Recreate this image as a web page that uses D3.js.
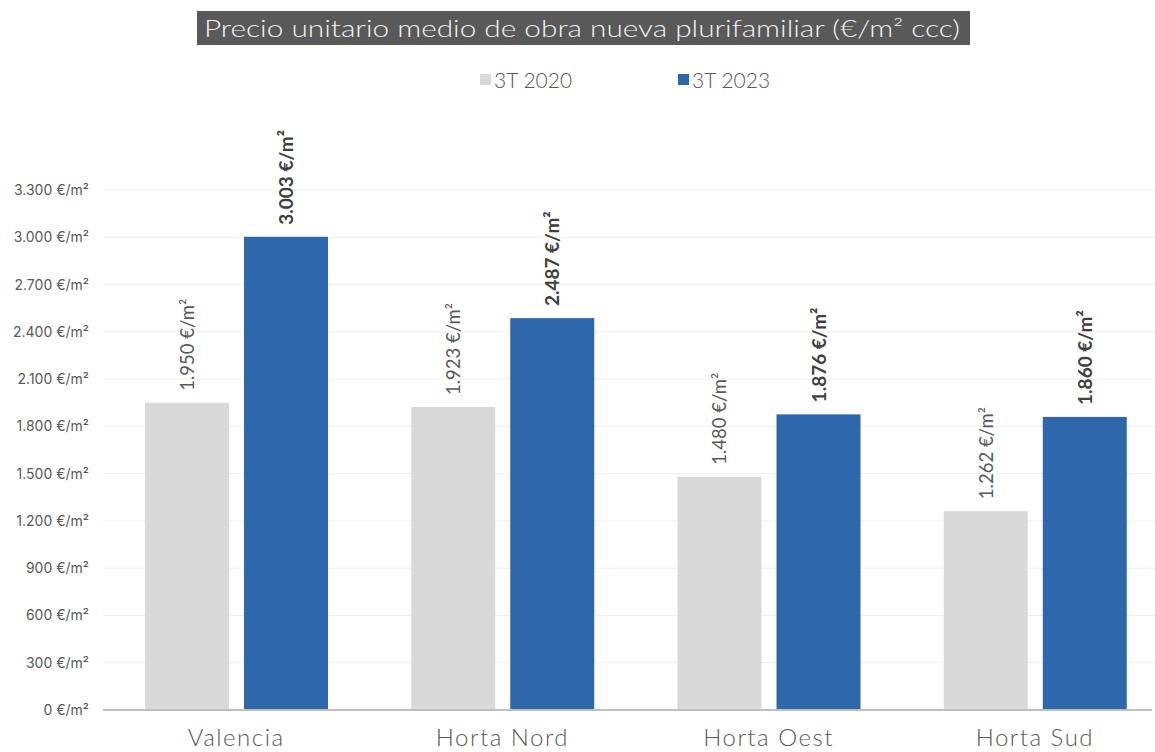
<!DOCTYPE html>
<html>
<head>
<meta charset="utf-8">
<script src="https://cdn.jsdelivr.net/npm/d3@7"></script>
<style>
  body { margin: 0; background: #fff; }
  svg { display: block; font-family: "Lato", "Noto Sans", sans-serif; }
</style>
</head>
<body>
<div id="chart"></div>
<script>
const width = 1155;
const height = 752;

// datos
const categories = ["Valencia", "Horta Nord", "Horta Oest", "Horta Sud"];
const seriesNames = ["3T 2020", "3T 2023"];
const values2020 = [1950, 1923, 1480, 1262];
const values2023 = [3003, 2487, 1876, 1860];
const yTicks = [0, 300, 600, 900, 1200, 1500, 1800, 2100, 2400, 2700, 3000, 3300];
const colors = ["#d9d9d9", "#2e67ab"];

const fmt = (v) => d3.format(",")(v).replace(/,/g, ".") + " €/m²";

const svg = d3.select("#chart").append("svg")
  .attr("width", width)
  .attr("height", height);

// escalas
const x = d3.scaleBand().domain(categories).range([103, 1168]);
const xs = d3.scaleBand().domain(seriesNames).range([42, 225]).paddingInner(0.152);
const y = d3.scaleLinear().domain([0, 3300]).range([710, 190]);

// rejilla
svg.append("g")
  .selectAll("line")
  .data(yTicks.slice(1))
  .join("line")
  .attr("x1", 103).attr("x2", width)
  .attr("y1", d => y(d)).attr("y2", d => y(d))
  .attr("stroke", "#efefef").attr("stroke-width", 1);

// eje Y
const yAxis = svg.append("g")
  .attr("transform", "translate(103,0)")
  .call(d3.axisLeft(y).tickValues(yTicks).tickSize(0).tickPadding(14).tickFormat(fmt));
yAxis.select(".domain").remove();
yAxis.selectAll("text")
  .attr("fill", "#595959")
  .style("font-size", "14px")
  .style("font-family", "Inter, 'Noto Sans', sans-serif");

// barras
const data = [values2020, values2023];
const groups = svg.append("g")
  .selectAll("g")
  .data(categories)
  .join("g")
  .attr("transform", d => "translate(" + x(d) + ",0)");

groups.selectAll("rect")
  .data((d, i) => seriesNames.map((s, j) => ({ s, v: data[j][i], j })))
  .join("rect")
  .attr("x", d => xs(d.s))
  .attr("y", d => y(d.v))
  .attr("width", xs.bandwidth())
  .attr("height", d => y(0) - y(d.v))
  .attr("fill", d => colors[d.j]);

// etiquetas de valor
groups.selectAll("text.val")
  .data((d, i) => seriesNames.map((s, j) => ({ s, v: data[j][i], j })))
  .join("text")
  .attr("class", "val")
  .attr("transform", d => "translate(" + (xs(d.s) + xs.bandwidth() / 2 + 7) + "," + (y(d.v) - 12) + ") rotate(-90)")
  .attr("text-anchor", "start")
  .attr("fill", d => d.j ? "#404040" : "#595959")
  .style("font-size", d => d.j ? "19px" : "18.5px")
  .style("font-weight", d => d.j ? "bold" : "normal")
  .text(d => fmt(d.v));

// linea base
svg.append("line")
  .attr("x1", 103).attr("x2", 1152)
  .attr("y1", y(0)).attr("y2", y(0))
  .attr("stroke", "#bfbfbf").attr("stroke-width", 2);

// eje X
svg.append("g")
  .selectAll("text")
  .data(categories)
  .join("text")
  .attr("x", d => x(d) + x.bandwidth() / 2)
  .attr("y", 746)
  .attr("text-anchor", "middle")
  .attr("fill", "#595959")
  .style("font-size", "24px")
  .style("letter-spacing", "1.5px")
  .style("font-weight", "300")
  .text(d => d);

// titulo
svg.append("rect")
  .attr("x", 197).attr("y", 11)
  .attr("width", 773).attr("height", 34)
  .attr("fill", "#595959");
svg.append("text")
  .attr("x", 204).attr("y", 37)
  .attr("fill", "#f2f2f2")
  .attr("textLength", 756)
  .attr("lengthAdjust", "spacingAndGlyphs")
  .style("font-size", "24px")
  .style("font-weight", "300")
  .text("Precio unitario medio de obra nueva plurifamiliar (€/m² ccc)");

// leyenda
const legendX = [480, 678];
const legend = svg.append("g")
  .selectAll("g")
  .data(seriesNames)
  .join("g")
  .attr("transform", (d, i) => "translate(" + legendX[i] + ",74)");
legend.append("rect")
  .attr("width", 11).attr("height", 11)
  .attr("fill", (d, i) => colors[i]);
legend.append("text")
  .attr("x", 14).attr("y", 14)
  .attr("fill", "#595959")
  .style("font-size", "21px")
  .style("font-weight", "300")
  .text(d => d);
</script>
</body>
</html>
